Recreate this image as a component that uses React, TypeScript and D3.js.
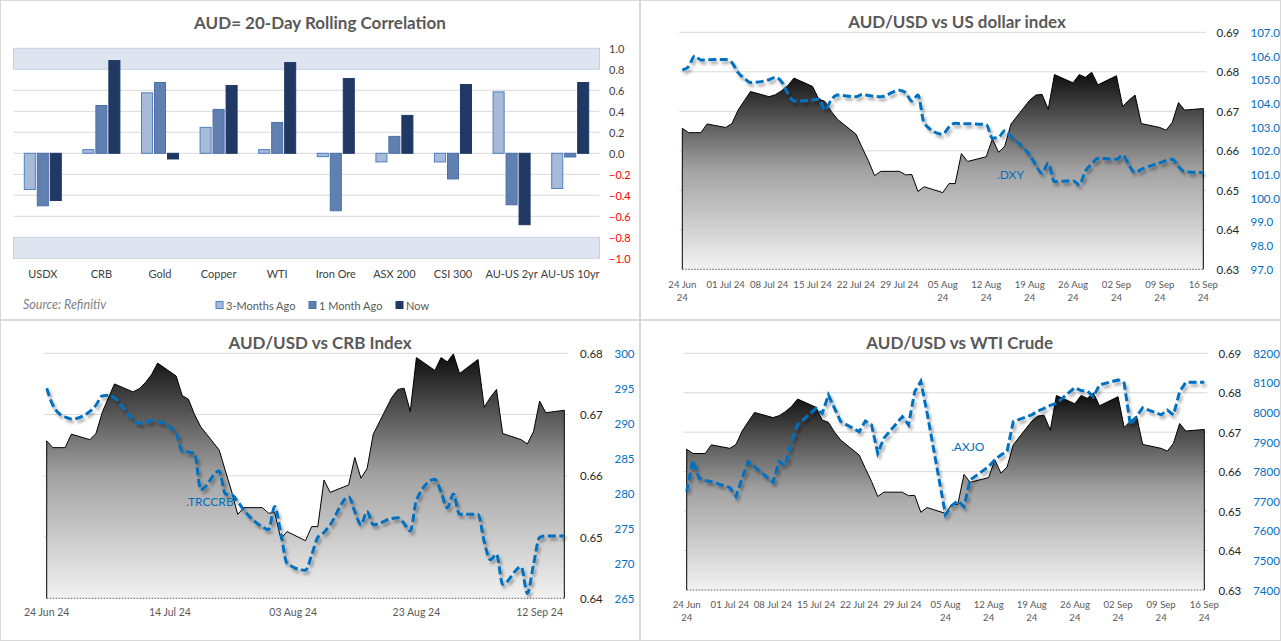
import React from 'react';
import * as d3 from 'd3';

const FONT = 'Lato, "Noto Sans", sans-serif';

// ---------------- Panel 1: rolling correlation ----------------
const categories = ['USDX', 'CRB', 'Gold', 'Copper', 'WTI', 'Iron Ore', 'ASX 200', 'CSI 300', 'AU-US 2yr', 'AU-US 10yr'];
const seriesNames = ['3-Months Ago', '1 Month Ago', 'Now'];
const corr3M = [-0.345, 0.035, 0.576, 0.247, 0.035, -0.032, -0.082, -0.082, 0.585, -0.335];
const corr1M = [-0.5, 0.455, 0.674, 0.418, 0.294, -0.547, 0.161, -0.244, -0.49, -0.035];
const corrNow = [-0.45, 0.883, -0.054, 0.646, 0.864, 0.712, 0.361, 0.655, -0.68, 0.674];
const corrTicks = [1.0, 0.8, 0.6, 0.4, 0.2, 0.0, -0.2, -0.4, -0.6, -0.8, -1.0];

// ---------------- Daily series ----------------
const dates = [
  '2024-06-24', '2024-06-25', '2024-06-26', '2024-06-27', '2024-06-28',
  '2024-07-01', '2024-07-02', '2024-07-03', '2024-07-04', '2024-07-05',
  '2024-07-08', '2024-07-09', '2024-07-10', '2024-07-11', '2024-07-12',
  '2024-07-15', '2024-07-16', '2024-07-17', '2024-07-18', '2024-07-19',
  '2024-07-22', '2024-07-23', '2024-07-24', '2024-07-25', '2024-07-26',
  '2024-07-29', '2024-07-30', '2024-07-31', '2024-08-01', '2024-08-02',
  '2024-08-05', '2024-08-06', '2024-08-07', '2024-08-08', '2024-08-09',
  '2024-08-12', '2024-08-13', '2024-08-14', '2024-08-15', '2024-08-16',
  '2024-08-19', '2024-08-20', '2024-08-21', '2024-08-22', '2024-08-23',
  '2024-08-26', '2024-08-27', '2024-08-28', '2024-08-29', '2024-08-30',
  '2024-09-02', '2024-09-03', '2024-09-04', '2024-09-05', '2024-09-06',
  '2024-09-09', '2024-09-10', '2024-09-11', '2024-09-12', '2024-09-13',
  '2024-09-16',
];
const audusd = [
  0.6657, 0.6646, 0.6646, 0.6646, 0.6668,
  0.6659, 0.6669, 0.6703, 0.6727, 0.6750,
  0.6737, 0.6742, 0.6752, 0.6765, 0.6784,
  0.6763, 0.6731, 0.6725, 0.6700, 0.6680,
  0.6642, 0.6608, 0.6575, 0.6537, 0.6548,
  0.6548, 0.6539, 0.6540, 0.6497, 0.6509,
  0.6494, 0.6517, 0.6517, 0.6593, 0.6573,
  0.6585, 0.6630, 0.6596, 0.6612, 0.6668,
  0.6728, 0.6741, 0.6743, 0.6705, 0.6793,
  0.6772, 0.6793, 0.6786, 0.6799, 0.6767,
  0.6790, 0.6712, 0.6728, 0.6741, 0.6669,
  0.6659, 0.6652, 0.6672, 0.6722, 0.6703,
  0.6707,
];
const dxy = [
  105.41, 105.55, 106.0, 105.83, 105.84,
  105.85, 105.72, 105.3, 105.06, 104.88,
  105.0, 105.1, 104.92, 104.43, 104.1,
  104.14, 104.19, 103.72, 104.14, 104.35,
  104.28, 104.38, 104.33, 104.3, 104.28,
  104.56, 104.46, 104.1, 104.35, 103.16,
  102.7, 103.0, 103.16, 103.14, 103.14,
  103.11, 102.53, 102.57, 102.85, 102.6,
  101.82, 101.4, 101.05, 101.47, 100.7,
  100.74, 100.56, 101.15, 101.44, 101.68,
  101.64, 101.82, 101.4, 101.08, 101.22,
  101.49, 101.58, 101.64, 101.33, 101.12,
  101.08,
];
const crb = [
  295.0, 292.6, 291.4, 290.9, 290.6,
  291.7, 292.6, 293.9, 294.0, 293.6,
  290.6, 290.0, 290.1, 290.4, 290.3,
  288.6, 286.0, 285.9, 285.7, 280.5,
  283.2, 279.9, 279.8, 278.8, 277.6,
  275.2, 274.8, 278.1, 274.3, 270.0,
  269.0, 271.2, 273.7, 274.4, 275.5,
  279.5, 277.4, 275.5, 277.4, 275.5,
  276.4, 276.5, 275.7, 274.6, 279.0,
  282.0, 280.2, 277.9, 279.9, 277.0,
  277.0, 273.1, 270.5, 271.3, 267.0,
  269.5, 265.7, 269.8, 273.7, 273.9,
  273.9,
];
const axjo = [
  7732, 7839, 7778, 7770, 7766,
  7746, 7716, 7778, 7834, 7817,
  7764, 7834, 7820, 7901, 7958,
  8014, 7997, 8059, 8014, 7969,
  7935, 7971, 7958, 7862, 7913,
  7986, 7958, 8070, 8105, 8000,
  7654, 7685, 7701, 7682, 7772,
  7817, 7840, 7856, 7870, 7969,
  7992, 8005, 8014, 8024, 8031,
  8084, 8074, 8073, 8053, 8093,
  8110, 8099, 7958, 7986, 8016,
  7992, 8008, 7992, 8070, 8102,
  8102,
];

// ---------------- Axis ticks ----------------
const weeklyTicks = ['2024-06-24', '2024-07-01', '2024-07-08', '2024-07-15', '2024-07-22', '2024-07-29', '2024-08-05', '2024-08-12', '2024-08-19', '2024-08-26', '2024-09-02', '2024-09-09', '2024-09-16'];
const weeklyTickLabels = [['24 Jun', '24'], ['01 Jul 24'], ['08 Jul 24'], ['15 Jul 24'], ['22 Jul 24'], ['29 Jul 24'], ['05 Aug', '24'], ['12 Aug', '24'], ['19 Aug', '24'], ['26 Aug', '24'], ['02 Sep', '24'], ['09 Sep', '24'], ['16 Sep', '24']];
const crbTicks = ['2024-06-24', '2024-07-14', '2024-08-03', '2024-08-23', '2024-09-12'];
const crbTickLabels = [['24 Jun 24'], ['14 Jul 24'], ['03 Aug 24'], ['23 Aug 24'], ['12 Sep 24']];
const audTicksWide = [0.63, 0.64, 0.65, 0.66, 0.67, 0.68, 0.69];
const audTicksCrb = [0.64, 0.65, 0.66, 0.67, 0.68];
const dxyTicks = [97, 98, 99, 100, 101, 102, 103, 104, 105, 106, 107];
const crbAxisTicks = [265, 270, 275, 280, 285, 290, 295, 300];
const axjoAxisTicks = [7400, 7500, 7600, 7700, 7800, 7900, 8000, 8100, 8200];

const parse = d3.timeParse('%Y-%m-%d');

function CorrelationPanel() {
  const x0 = d3.scaleBand().domain(categories).range([13.5, 599.5]);
  const bw = x0.bandwidth();
  const x1 = d3.scaleBand().domain(seriesNames).range([bw / 2 - 18.5, bw / 2 + 18.5]).paddingInner(0.15);
  const y = d3.scaleLinear().domain([-1, 1]).range([258.3, 48.3]);
  const seriesData = [corr3M, corr1M, corrNow];
  const fills = ['#a7bad7', '#6080b2', '#1f3864'];
  const strokes = ['#4f7fc4', '#4a6ea6', '#1f3864'];
  const gridVals = [0.6, 0.4, 0.2, 0.0, -0.2, -0.4, -0.6];
  const legendX = [216, 309, 396];
  return (
    <g>
      <rect x={0.5} y={0.5} width={639} height={319} fill="#fff" stroke="#d9d9d9" />
      <text x={320} y={22} textAnchor="middle" dominantBaseline="central" fontFamily={FONT} fontWeight="bold" fontSize={17} fill="#595959">AUD= 20-Day Rolling Correlation</text>
      <rect x={13.5} y={y(1)} width={586} height={y(0.8) - y(1)} fill="#dee5f0" stroke="#c5cfe0" />
      <rect x={13.5} y={y(-0.8)} width={586} height={y(-1) - y(-0.8)} fill="#dee5f0" stroke="#c5cfe0" />
      {gridVals.map((v) => (
        <line key={v} x1={13.5} x2={599.5} y1={y(v)} y2={y(v)} stroke="#d9d9d9" />
      ))}
      {categories.map((c, i) => (
        <g key={c} transform={`translate(${x0(c)},0)`}>
          {seriesNames.map((s, k) => {
            const v = seriesData[k][i];
            return (
              <rect key={s} x={x1(s)} width={x1.bandwidth()} y={Math.min(y(v), y(0))} height={Math.abs(y(v) - y(0))} fill={fills[k]} stroke={strokes[k]} strokeWidth={1} />
            );
          })}
          <text x={bw / 2} y={273.5} textAnchor="middle" dominantBaseline="central" fontFamily={FONT} fontSize={11} fill="#404040">{c}</text>
        </g>
      ))}
      {corrTicks.map((t) => (
        <text key={t} x={609} y={y(t)} dominantBaseline="central" fontFamily={FONT} fontSize={11} fill={t < 0 ? '#ff0000' : '#404040'}>{d3.format('.1f')(t)}</text>
      ))}
      <text x={23} y={304.5} dominantBaseline="central" fontFamily={FONT} fontStyle="italic" fontSize={12.5} fill="#7f7f7f">Source: Refinitiv</text>
      {seriesNames.map((s, k) => (
        <g key={s}>
          <rect x={legendX[k]} y={301.5} width={7} height={7} fill={fills[k]} stroke={strokes[k]} />
          <text x={legendX[k] + 10} y={305} dominantBaseline="central" fontFamily={FONT} fontSize={11} fill="#595959">{s}</text>
        </g>
      ))}
    </g>
  );
}

type PanelProps = {
  id: string;
  box: [number, number, number, number];
  title: string;
  titleX: number;
  titleY: number;
  xRange: [number, number];
  yRange: [number, number];
  audDomain: [number, number];
  audTicks: number[];
  audLabelX: number;
  secData: number[];
  secDomain: [number, number];
  secTicks: number[];
  secFmt: (n: number) => string;
  secLabelX: number;
  curve: any;
  tickDates: string[];
  tickLabels: string[][];
  tickY: number;
  tickSize: number;
  label: string;
  labelX: number;
  labelY: number;
};

function LinePanel(p: PanelProps) {
  const ds = dates.map((d) => parse(d) as Date);
  const x = d3.scaleTime().domain([ds[0], ds[ds.length - 1]]).range(p.xRange);
  const yA = d3.scaleLinear().domain(p.audDomain).range(p.yRange);
  const yS = d3.scaleLinear().domain(p.secDomain).range(p.yRange);
  const base = p.yRange[0];
  const pts: [number, number][] = ds.map((d, i) => [x(d), yA(audusd[i])]);
  const areaPath = d3.area<[number, number]>().x((d) => d[0]).y0(base).y1((d) => d[1])(pts) || '';
  const outline = d3.line()([[pts[0][0], base], ...pts, [pts[pts.length - 1][0], base]]) || '';
  const secPath = d3.line<number>().x((_, i) => x(ds[i])).y((d) => yS(d)).curve(p.curve)(p.secData) || '';
  const [bx, by, bwid, bh] = p.box;
  return (
    <g>
      <rect x={bx} y={by} width={bwid} height={bh} fill="#fff" stroke="#d9d9d9" />
      <defs>
        <linearGradient id={p.id} x1="0" y1="0" x2="0" y2="1">
          <stop offset="0" stopColor="#0d0d0d" />
          <stop offset="0.5" stopColor="#a3a3a3" />
          <stop offset="1" stopColor="#f2f2f2" />
        </linearGradient>
      </defs>
      <text x={p.titleX} y={p.titleY} textAnchor="middle" dominantBaseline="central" fontFamily={FONT} fontWeight="bold" fontSize={17} fill="#595959">{p.title}</text>
      {p.audTicks.filter((t) => Math.abs(yA(t) - base) > 1).map((t) => (
        <line key={t} x1={p.xRange[0] - 3} x2={p.xRange[1] + 3} y1={yA(t)} y2={yA(t)} stroke="#d9d9d9" />
      ))}
      <path d={areaPath} fill={`url(#${p.id})`} />
      <path d={outline} fill="none" stroke="#000" strokeWidth={1} />
      <line x1={p.xRange[0]} x2={p.xRange[1]} y1={base} y2={base} stroke="#595959" strokeDasharray="1.5 1.5" />
      <path d={secPath} fill="none" stroke="#0070c0" strokeWidth={3} strokeDasharray="8 3.5" filter="url(#shadow)" />
      <text x={p.labelX} y={p.labelY} dominantBaseline="central" fontFamily={FONT} fontSize={12} fill="#0070c0">{p.label}</text>
      {p.audTicks.map((t) => (
        <text key={t} x={p.audLabelX} y={yA(t)} dominantBaseline="central" fontFamily={FONT} fontSize={11.5} fill="#262626">{d3.format('.2f')(t)}</text>
      ))}
      {p.secTicks.map((t) => (
        <text key={t} x={p.secLabelX} y={yS(t)} dominantBaseline="central" fontFamily={FONT} fontSize={11.5} fill="#0070c0">{p.secFmt(t)}</text>
      ))}
      {p.tickDates.map((t, i) => (
        <text key={t} x={x(parse(t) as Date)} y={p.tickY} textAnchor="middle" dominantBaseline="central" fontFamily={FONT} fontSize={p.tickSize} fill="#595959">
          {p.tickLabels[i].map((ln, j) => (
            <tspan key={j} x={x(parse(t) as Date)} dy={j === 0 ? 0 : 12.7}>{ln}</tspan>
          ))}
        </text>
      ))}
    </g>
  );
}

export default function App() {
  return (
    <svg width={1281} height={641} style={{ position: 'absolute', left: 0, top: 0, background: '#fff' }}>
      <defs>
        <filter id="shadow" x="-10%" y="-10%" width="120%" height="130%">
          <feDropShadow dx="2" dy="3" stdDeviation="1.6" floodColor="#000" floodOpacity="0.35" />
        </filter>
      </defs>
      <CorrelationPanel />
      <LinePanel
        id="g2" box={[640.5, 0.5, 640, 319]} title="AUD/USD vs US dollar index" titleX={957} titleY={21}
        xRange={[682.3, 1203.3]} yRange={[269.3, 32.3]} audDomain={[0.63, 0.69]} audTicks={audTicksWide} audLabelX={1216.5}
        secData={dxy} secDomain={[97, 107]} secTicks={dxyTicks} secFmt={d3.format('.1f')} secLabelX={1250.5}
        curve={d3.curveMonotoneX} tickDates={weeklyTicks} tickLabels={weeklyTickLabels} tickY={284} tickSize={9.6}
        label=".DXY" labelX={997} labelY={174}
      />
      <LinePanel
        id="g3" box={[0.5, 320.5, 639, 320]} title="AUD/USD vs CRB Index" titleX={320} titleY={342}
        xRange={[46.7, 564.3]} yRange={[598.3, 353.3]} audDomain={[0.64, 0.68]} audTicks={audTicksCrb} audLabelX={580}
        secData={crb} secDomain={[265, 300]} secTicks={crbAxisTicks} secFmt={d3.format('d')} secLabelX={614.5}
        curve={d3.curveMonotoneX} tickDates={crbTicks} tickLabels={crbTickLabels} tickY={611.7} tickSize={10.5}
        label=".TRCCRB" labelX={186} labelY={501}
      />
      <LinePanel
        id="g4" box={[640.5, 320.5, 640, 320]} title="AUD/USD vs WTI Crude" titleX={959.7} titleY={342.7}
        xRange={[686.7, 1204.3]} yRange={[590, 353.3]} audDomain={[0.63, 0.69]} audTicks={audTicksWide} audLabelX={1218.5}
        secData={axjo} secDomain={[7400, 8200]} secTicks={axjoAxisTicks} secFmt={d3.format('d')} secLabelX={1253.2}
        curve={d3.curveLinear} tickDates={weeklyTicks} tickLabels={weeklyTickLabels} tickY={604} tickSize={9.6}
        label=".AXJO" labelX={951} labelY={446}
      />
    </svg>
  );
}
